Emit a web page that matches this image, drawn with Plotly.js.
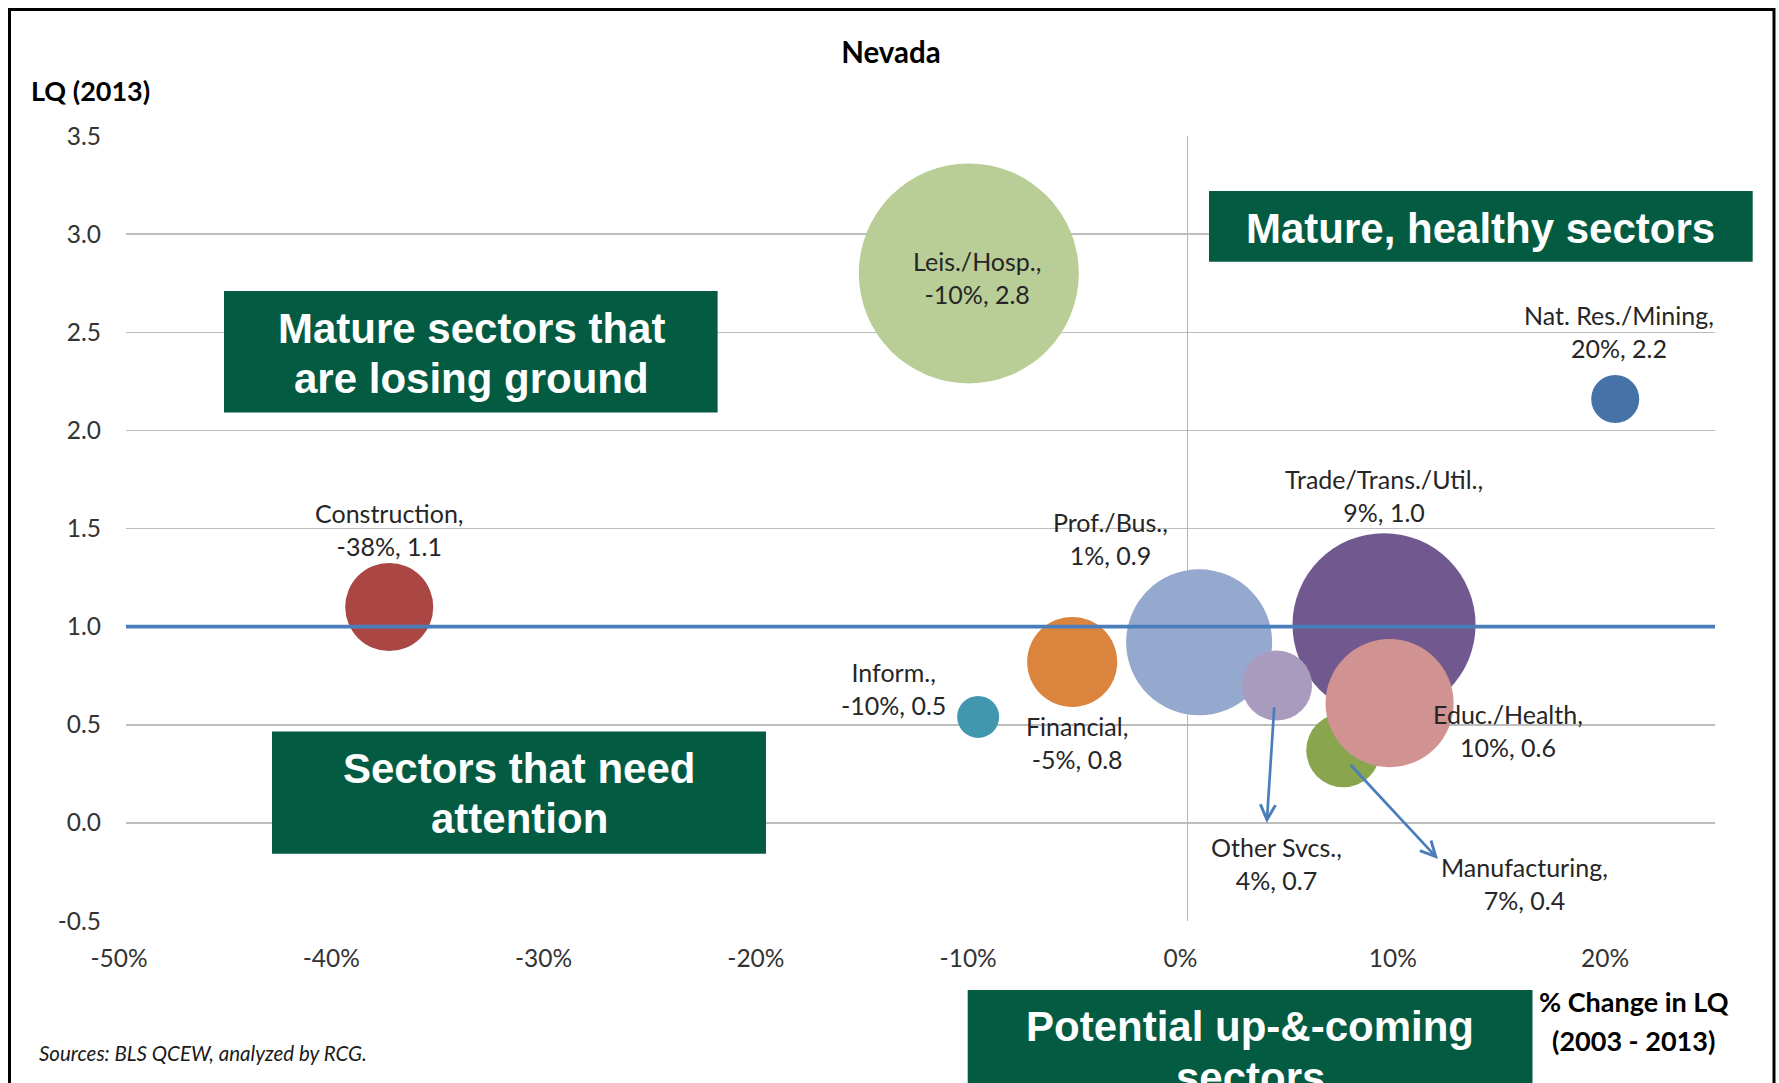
<!DOCTYPE html>
<html>
<head>
<meta charset="utf-8">
<script src="https://cdn.plot.ly/plotly-3.0.1.min.js"></script>
<style>
html,body{margin:0;padding:0;background:#ffffff;}
#chart{width:1779px;height:1083px;}
</style>
</head>
<body>
<div id="chart"></div>
<script>
// ---------------- data ----------------
const sectors = ['Nat. Res./Mining', 'Construction', 'Manufacturing', 'Trade/Trans./Util.', 'Inform.',
                 'Financial', 'Prof./Bus.', 'Educ./Health', 'Leis./Hosp.', 'Other Svcs.'];
const pctChangeLQ = [20.15, -37.6, 7.34, 9.26, -9.86, -5.43, 0.55, 9.52, -10.3, 4.22];   // % change in LQ 2003-2013
const lq2013 = [2.16, 1.10, 0.37, 1.01, 0.54, 0.82, 0.92, 0.61, 2.80, 0.70];              // LQ (2013)
const employmentK = [15.7, 52.7, 37.3, 227.8, 12.0, 55.1, 145.0, 111.5, 329.0, 33.3];    // bubble size (est. jobs, thousands)
const xTickVals = [-50, -40, -30, -20, -10, 0, 10, 20];
const yTickVals = [-0.5, 0, 0.5, 1.0, 1.5, 2.0, 2.5, 3.0, 3.5];
const benchmarkX = [-50, 24.85];
const benchmarkY = [1.0, 1.0];

// ---------------- styles / positions ----------------
const bubbleColors = ['#4673A7', '#AA4744', '#89A54E', '#71588F', '#4198AE',
                      '#DB843D', '#95A9CF', '#D19392', '#B9CE97', '#A99BBD'];
// label offsets from bubble centre, in pixels (dx right, dy down)
const labelOffset = {
  'Nat. Res./Mining': [4, -67],
  'Construction': [0, -77.5],
  'Manufacturing': [181.5, 133],
  'Trade/Trans./Util.': [0, -129],
  'Inform.': [-85, -28.4],
  'Financial': [5, 81],
  'Prof./Bus.': [-89, -103.6],
  'Educ./Health': [118.5, 27],
  'Leis./Hosp.': [8, 3.7],
  'Other Svcs.': [-1, 177.5]
};
// leader arrows: head offset from bubble centre and tail offset from head (pixels)
const arrowSpec = {
  'Other Svcs.': {head: [-10.3, 137.5], tail: [7.6, -117.3]},
  'Manufacturing': {head: [94.7, 108.8], tail: [-88.7, -95.6]}
};

const W = 1779, H = 1083;
const M = {l: 126, r: 64, t: 136, b: 162, pad: 0};
const PW = W - M.l - M.r, PH = H - M.t - M.b;
const px = v => (v - M.l) / PW;
const py = v => (H - M.b - v) / PH;

const labelFont = {family: 'Lato, "Open Sans", sans-serif', size: 25, color: '#262626'};
const boxFont = {family: '"Liberation Sans", Arial, sans-serif', size: 42, color: '#ffffff'};
const boxGreen = '#035B41';

// ---------------- traces ----------------
const bubbles = {
  type: 'scatter', mode: 'markers',
  x: pctChangeLQ, y: lq2013,
  marker: {
    size: employmentK, sizemode: 'area', sizeref: 329 / 24200,
    color: bubbleColors, line: {width: 0}, opacity: 1
  },
  hoverinfo: 'skip', cliponaxis: false, showlegend: false
};
const benchmark = {
  type: 'scatter', mode: 'lines', x: benchmarkX, y: benchmarkY,
  line: {color: '#4A7EBB', width: 3.6}, hoverinfo: 'skip', showlegend: false
};

// ---------------- annotations ----------------
const annotations = [];
sectors.forEach((s, i) => {
  const off = labelOffset[s];
  annotations.push({
    xref: 'x', yref: 'y', x: pctChangeLQ[i], y: lq2013[i],
    xshift: off[0], yshift: -off[1],
    text: s + ',<br>' + Math.round(pctChangeLQ[i]) + '%, ' + lq2013[i].toFixed(1),
    showarrow: false, xanchor: 'center', yanchor: 'middle', align: 'center',
    font: labelFont
  });
  if (arrowSpec[s]) {
    const a = arrowSpec[s];
    annotations.push({
      xref: 'x', yref: 'y', x: pctChangeLQ[i], y: lq2013[i],
      xshift: a.head[0], yshift: -a.head[1],
      ax: a.tail[0], ay: a.tail[1], axref: 'pixel', ayref: 'pixel',
      text: '', showarrow: true, arrowhead: 5, arrowsize: 1.1, arrowwidth: 2.7,
      arrowcolor: '#4A7EBB', standoff: 0, startstandoff: 0
    });
  }
});

function pageText(text, cx, cy, font, anchor) {
  annotations.push({
    xref: 'paper', yref: 'paper', x: px(cx), y: py(cy),
    text: text, showarrow: false, xanchor: anchor || 'center', yanchor: 'middle',
    align: 'center', font: font
  });
}
// quadrant boxes
pageText('<b>Mature sectors that</b>', 471, 328.6, boxFont);
pageText('<b>are losing ground</b>', 471, 378.6, boxFont);
pageText('<b>Mature, healthy sectors</b>', 1480, 228, boxFont);
pageText('<b>Sectors that need</b>', 519, 768.5, boxFont);
pageText('<b>attention</b>', 519, 818.7, boxFont);
pageText('<b>Potential up-&-coming</b>', 1250, 1026.5, boxFont);
pageText('<b>sectors</b>', 1250, 1077, boxFont);
// axis titles and source
const axTitleFont = {family: 'Lato, "Open Sans", sans-serif', size: 27, color: '#000000'};
pageText('<b>LQ (2013)</b>', 90.5, 90, axTitleFont);
pageText('<b>% Change in LQ</b>', 1633.5, 1001, axTitleFont);
pageText('<b>(2003 - 2013)</b>', 1633.5, 1040, axTitleFont);
pageText('<i>Sources: BLS QCEW, analyzed by RCG.</i>', 37, 1053,
         {family: 'Lato, "Open Sans", sans-serif', size: 20.5, color: '#1a1a1a'}, 'left');

// ---------------- shapes ----------------
function box(x0, y0, x1, y1) {
  return {type: 'rect', xref: 'paper', yref: 'paper', x0: px(x0), x1: px(x1), y0: py(y1), y1: py(y0),
          fillcolor: boxGreen, line: {width: 0}, layer: 'above'};
}
const shapes = [
  box(224, 291, 717.6, 412.5),
  box(1209, 191, 1752.7, 261.8),
  box(272, 731.5, 766, 853.7),
  box(967.7, 990, 1532.5, 1140),
  {type: 'rect', xref: 'paper', yref: 'paper', x0: px(9.5), x1: px(1774), y0: py(1140), y1: py(9.5),
   fillcolor: 'rgba(0,0,0,0)', line: {color: '#000000', width: 3}, layer: 'above'}
];

const tickFont = {family: 'Lato, "Open Sans", sans-serif', size: 24.5, color: '#333333'};
const layout = {
  width: W, height: H, margin: M,
  paper_bgcolor: '#ffffff', plot_bgcolor: '#ffffff',
  showlegend: false,
  title: {
    text: '<b>Nevada</b>', xref: 'container', yref: 'container',
    x: 891 / W, y: 1 - 53 / H, xanchor: 'center', yanchor: 'middle',
    font: {family: 'Lato, "Open Sans", sans-serif', size: 29.5, color: '#000000'}
  },
  xaxis: {
    range: [-50, 24.85], tickvals: xTickVals, ticktext: xTickVals.map(v => v + '%'),
    showgrid: false, zeroline: true, zerolinecolor: '#B5B5B5', zerolinewidth: 1.3,
    showline: false, ticks: '', tickfont: tickFont, ticklabelstandoff: 20, ticklabelshift: -7,
    fixedrange: true
  },
  yaxis: {
    range: [-0.5, 3.5], tickvals: yTickVals, ticktext: yTickVals.map(v => v.toFixed(1)),
    showgrid: true, gridcolor: '#BDBDBD', gridwidth: 1.5, zeroline: false,
    showline: false, ticks: '', tickfont: tickFont, ticklabelstandoff: 24, fixedrange: true
  },
  shapes: shapes,
  annotations: annotations
};

Plotly.newPlot('chart', [bubbles, benchmark], layout, {displayModeBar: false, staticPlot: true});
</script>
</body>
</html>
